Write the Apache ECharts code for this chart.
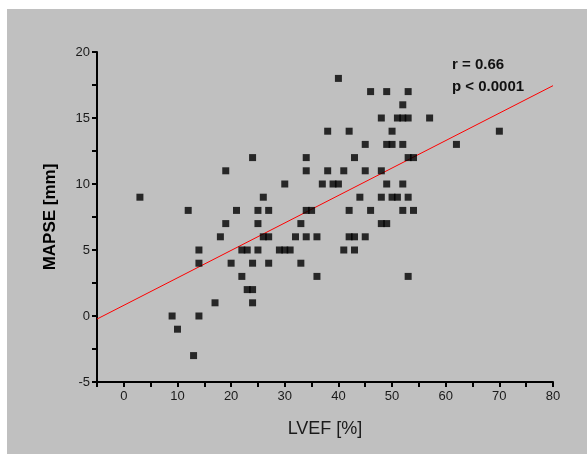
<!DOCTYPE html>
<html>
<head>
<meta charset="utf-8">
<script src="https://cdn.jsdelivr.net/npm/echarts@6/dist/echarts.min.js"></script>
<style>
  html, body { margin: 0; padding: 0; background: #fff; }
  #main { position: absolute; left: 7px; top: 9px; width: 580px; height: 445px; background: #c0c0c0; }
</style>
</head>
<body>
<div id="main"></div>
<script>
// LVEF [%] vs MAPSE [mm]
var lvef = [3, 9, 10, 12, 13, 14, 14, 14, 17, 18, 19, 19, 20, 21, 22, 22, 23, 23, 24, 24,
    24, 24, 25, 25, 25, 26, 26, 27, 27, 27, 29, 30, 31, 30, 32, 33, 33, 34, 34, 34,
    35, 34, 36, 36, 37, 38, 38, 39, 40, 40, 41, 41, 42, 42, 42, 43, 43, 43, 44, 45,
    45, 45, 46, 46, 48, 48, 48, 48, 49, 49, 49, 50, 49, 50, 50, 51, 51, 52, 53, 52,
    52, 52, 52, 53, 53, 54, 53, 53, 54, 57, 62, 70];
var mapse = [9, 0, -1, 8, -3, 5, 4, 0, 1, 6, 7, 11, 4, 8, 3, 5, 5, 2, 2, 1,
    4, 12, 5, 7, 8, 9, 6, 6, 8, 4, 5, 5, 5, 10, 6, 7, 4, 12, 11, 8,
    8, 6, 6, 3, 10, 11, 14, 10, 10, 18, 11, 5, 14, 8, 6, 6, 5, 12, 9, 13,
    11, 6, 17, 8, 15, 11, 9, 7, 7, 17, 13, 13, 10, 14, 9, 9, 15, 15, 15, 16,
    13, 10, 8, 17, 12, 12, 9, 3, 8, 15, 13, 14];

var fitSlope = 0.208;
var fitIntercept = 0.81;
var xRange = [-5, 80];
var statsText = ['r = 0.66', 'p < 0.0001'];

var points = lvef.map(function (x, i) { return [x, mapse[i]]; });
var fitLine = xRange.map(function (x) { return [x, fitIntercept + fitSlope * x]; });

var myChart = echarts.init(document.getElementById('main'));

var axisFont = { color: '#1a1a1a', fontSize: 13, fontFamily: 'Liberation Sans, Arial, sans-serif' };

var option = {
    backgroundColor: '#c0c0c0',
    animation: false,
    grid: { left: 90, top: 43, right: 34, bottom: 72 },
    xAxis: {
        type: 'value',
        min: xRange[0],
        max: xRange[1],
        interval: 5,
        name: 'LVEF [%]',
        nameLocation: 'middle',
        nameGap: 38,
        nameTextStyle: { color: '#1a1a1a', fontSize: 18, fontFamily: 'Liberation Sans, Arial, sans-serif' },
        axisLine: { show: true, onZero: false, lineStyle: { color: '#000', width: 2 } },
        axisTick: { show: true, inside: false, length: 5, lineStyle: { color: '#000', width: 2 } },
        splitLine: { show: false },
        axisLabel: Object.assign({
            margin: 8,
            formatter: function (v) { return (v % 10 === 0) ? String(v) : ''; }
        }, axisFont)
    },
    yAxis: {
        type: 'value',
        min: -5,
        max: 20,
        interval: 2.5,
        name: 'MAPSE [mm]',
        nameLocation: 'middle',
        nameGap: 38,
        nameTextStyle: { color: '#000', fontSize: 17, fontWeight: 'bold', fontFamily: 'Liberation Sans, Arial, sans-serif' },
        axisLine: { show: true, onZero: false, lineStyle: { color: '#000', width: 2 } },
        axisTick: { show: true, inside: false, length: 5, lineStyle: { color: '#000', width: 2 } },
        splitLine: { show: false },
        axisLabel: Object.assign({
            margin: 7,
            formatter: function (v) { return (v % 5 === 0) ? String(v) : ''; }
        }, axisFont)
    },
    graphic: [{
        type: 'text',
        left: 445,
        top: 45,
        style: {
            text: statsText.join('\n'),
            fill: '#111',
            font: 'bold 15px Liberation Sans, Arial, sans-serif',
            lineHeight: 22
        }
    }],
    series: [
        {
            type: 'line',
            data: fitLine,
            symbol: 'none',
            lineStyle: { color: '#ff0000', width: 1 },
            z: 1
        },
        {
            type: 'scatter',
            data: points,
            symbol: 'rect',
            symbolSize: 7,
            itemStyle: { color: '#000' },
            z: 2
        }
    ]
};
myChart.setOption(option);
</script>
</body>
</html>
